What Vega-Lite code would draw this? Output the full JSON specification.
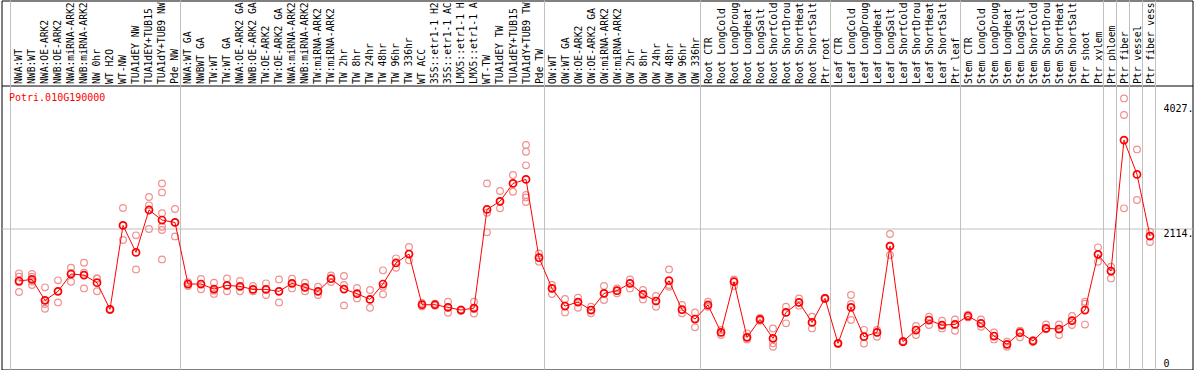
{
  "$schema": "https://vega.github.io/schema/vega-lite/v6.json",
  "width": 1191,
  "height": 369,
  "autosize": {"type": "none"},
  "padding": {"left": 1.5, "top": 0.5, "right": 1.5, "bottom": 0.5},
  "background": "white",
  "config": {"view": {"stroke": "black", "strokeWidth": 1}, "font": "DejaVu Sans Mono"},
  "title": {"text": "Potri.010G190000", "orient": "bottom", "anchor": "start", "frame": "group", "offset": 0, "dx": 7.5, "dy": -269.3, "baseline": "alphabetic", "color": "#ff0000", "font": "DejaVu Sans Mono", "fontSize": 10, "fontWeight": "normal"},
  "datasets": {
    "samples": [
      {"i": 0, "label": "NWA:WT", "mean": 1307, "reps": [1424, 1373, 1290, 1138]},
      {"i": 1, "label": "NWB:WT", "mean": 1332, "reps": [1414, 1373, 1300, 1245]},
      {"i": 2, "label": "NWA:OE-ARK2", "mean": 1011, "reps": [1210, 1011, 955, 883]},
      {"i": 3, "label": "NWB:OE-ARK2", "mean": 1149, "reps": [1317, 1149, 980]},
      {"i": 4, "label": "NWA:miRNA-ARK2", "mean": 1414, "reps": [1511, 1430, 1296]},
      {"i": 5, "label": "NWB:miRNA-ARK2", "mean": 1398, "reps": [1587, 1434, 1194]},
      {"i": 6, "label": "NW 0hr", "mean": 1281, "reps": [1350, 1340, 1150]},
      {"i": 7, "label": "WT H2O", "mean": 873, "reps": [880, 870, 865]},
      {"i": 8, "label": "WT-NW", "mean": 2158, "reps": [2424, 2158, 1934]},
      {"i": 9, "label": "TUA1dEY NW", "mean": 1745, "reps": [2006, 1485]},
      {"i": 10, "label": "TUA1dEY+TUB15", "mean": 2394, "reps": [2592, 2465, 2394, 2103]},
      {"i": 11, "label": "TUA1dY+TUB9 NW", "mean": 2240, "reps": [2801, 2663, 2343, 2138, 2087, 1638]},
      {"i": 12, "label": "Pde NW", "mean": 2204, "reps": [2409, 2204, 1990]},
      {"i": 13, "label": "NWA:WT GA", "mean": 1261, "reps": [1290, 1261, 1230]},
      {"i": 14, "label": "NWBWT GA", "mean": 1261, "reps": [1337, 1261, 1180]},
      {"i": 15, "label": "TW:WT", "mean": 1184, "reps": [1281, 1160, 1110]},
      {"i": 16, "label": "TW:WT GA", "mean": 1240, "reps": [1347, 1240, 1149]},
      {"i": 17, "label": "NWA:OE-ARK2 GA", "mean": 1225, "reps": [1307, 1225, 1149]},
      {"i": 18, "label": "NWB:OE-ARK2 GA", "mean": 1179, "reps": [1230, 1179, 1149]},
      {"i": 19, "label": "TW:OE-ARK2", "mean": 1179, "reps": [1271, 1179, 1093]},
      {"i": 20, "label": "TW:OE-ARK2 GA", "mean": 1149, "reps": [1332, 1149, 980]},
      {"i": 21, "label": "NWA:miRNA-ARK2", "mean": 1271, "reps": [1342, 1271, 1194]},
      {"i": 22, "label": "NWB:miRNA-ARK2", "mean": 1210, "reps": [1281, 1210, 1149]},
      {"i": 23, "label": "TW:miRNA-ARK2", "mean": 1149, "reps": [1220, 1149, 1093]},
      {"i": 24, "label": "TW:miRNA-ARK2", "mean": 1342, "reps": [1393, 1342, 1291]},
      {"i": 25, "label": "TW 2hr", "mean": 1184, "reps": [1383, 1245, 934]},
      {"i": 26, "label": "TW 8hr", "mean": 1113, "reps": [1200, 1113, 1041]},
      {"i": 27, "label": "TW 24hr", "mean": 1026, "reps": [1169, 1026, 898]},
      {"i": 28, "label": "TW 48hr", "mean": 1261, "reps": [1470, 1220, 1103]},
      {"i": 29, "label": "TW 96hr", "mean": 1583, "reps": [1654, 1583, 1511]},
      {"i": 30, "label": "TW 336hr", "mean": 1720, "reps": [1827, 1720, 1623]},
      {"i": 31, "label": "WT ACC", "mean": 944, "reps": [970, 944, 919]},
      {"i": 32, "label": "35S::etr1-1 H2", "mean": 944, "reps": [960, 944, 930]},
      {"i": 33, "label": "35S::etr1-1 AC", "mean": 904, "reps": [990, 904, 822]},
      {"i": 34, "label": "LMX5::etr1-1 H", "mean": 863, "reps": [873, 863, 853]},
      {"i": 35, "label": "LMX5::etr1-1 A", "mean": 893, "reps": [990, 880, 810]},
      {"i": 36, "label": "WT-TW", "mean": 2403, "reps": [2801, 2353, 2052]},
      {"i": 37, "label": "TUA1dEY TW", "mean": 2526, "reps": [2684, 2526, 2419]},
      {"i": 38, "label": "TUA1dEY+TUB15", "mean": 2801, "reps": [2929, 2801, 2674]},
      {"i": 39, "label": "TUA1dY+TUB9 TW", "mean": 2862, "reps": [3388, 3286, 3077, 2623, 2587, 2516]},
      {"i": 40, "label": "Pde TW", "mean": 1664, "reps": [1730, 1664, 1603]},
      {"i": 41, "label": "OW:WT", "mean": 1194, "reps": [1245, 1194, 1108]},
      {"i": 42, "label": "OW:WT GA", "mean": 924, "reps": [1031, 924, 827]},
      {"i": 43, "label": "OW:OE-ARK2", "mean": 985, "reps": [1052, 985, 898]},
      {"i": 44, "label": "OW:OE-ARK2 GA", "mean": 863, "reps": [914, 863, 812]},
      {"i": 45, "label": "OW:miRNA-ARK2", "mean": 1118, "reps": [1230, 1118, 1016]},
      {"i": 46, "label": "OW:miRNA-ARK2", "mean": 1159, "reps": [1194, 1159, 1118]},
      {"i": 47, "label": "OW 2hr", "mean": 1271, "reps": [1332, 1271, 1194]},
      {"i": 48, "label": "OW 8hr", "mean": 1103, "reps": [1169, 1103, 1026]},
      {"i": 49, "label": "OW 24hr", "mean": 1001, "reps": [1077, 1001, 914]},
      {"i": 50, "label": "OW 48hr", "mean": 1312, "reps": [1485, 1245, 1220]},
      {"i": 51, "label": "OW 96hr", "mean": 868, "reps": [940, 868, 812]},
      {"i": 52, "label": "OW 336hr", "mean": 725, "reps": [827, 725, 598]},
      {"i": 53, "label": "Root CTR", "mean": 940, "reps": [990, 940, 914]},
      {"i": 54, "label": "Root LongCold", "mean": 521, "reps": [557, 521, 480]},
      {"i": 55, "label": "Root LongDroug", "mean": 1296, "reps": [1332, 1296, 1230]},
      {"i": 56, "label": "Root LongHeat", "mean": 445, "reps": [506, 445, 414]},
      {"i": 57, "label": "Root LongSalt", "mean": 720, "reps": [740, 720, 700]},
      {"i": 58, "label": "Root ShortCold", "mean": 429, "reps": [582, 429, 353, 302]},
      {"i": 59, "label": "Root ShortDrou", "mean": 827, "reps": [914, 827, 659]},
      {"i": 60, "label": "Root ShortHeat", "mean": 980, "reps": [1041, 980, 930]},
      {"i": 61, "label": "Root ShortSalt", "mean": 674, "reps": [761, 674, 582]},
      {"i": 62, "label": "Ptr root", "mean": 1041, "reps": [1050, 1041, 1030]},
      {"i": 63, "label": "Leaf CTR", "mean": 353, "reps": [360, 353, 345]},
      {"i": 64, "label": "Leaf LongCold", "mean": 904, "reps": [1093, 955, 710]},
      {"i": 65, "label": "Leaf LongDroug", "mean": 455, "reps": [560, 455, 350]},
      {"i": 66, "label": "Leaf LongHeat", "mean": 521, "reps": [557, 521, 455]},
      {"i": 67, "label": "Leaf LongSalt", "mean": 1842, "reps": [2026, 1842, 1705]},
      {"i": 68, "label": "Leaf ShortCold", "mean": 379, "reps": [390, 379, 370]},
      {"i": 69, "label": "Leaf ShortDrou", "mean": 557, "reps": [618, 557, 480]},
      {"i": 70, "label": "Leaf ShortHeat", "mean": 710, "reps": [761, 710, 633]},
      {"i": 71, "label": "Leaf ShortSalt", "mean": 633, "reps": [700, 633, 582]},
      {"i": 72, "label": "Ptr leaf", "mean": 643, "reps": [720, 643, 547]},
      {"i": 73, "label": "Stem CTR", "mean": 771, "reps": [790, 771, 750]},
      {"i": 74, "label": "Stem LongCold", "mean": 659, "reps": [720, 659, 608]},
      {"i": 75, "label": "Stem LongDroug", "mean": 465, "reps": [521, 465, 414]},
      {"i": 76, "label": "Stem LongHeat", "mean": 338, "reps": [379, 338, 302]},
      {"i": 77, "label": "Stem LongSalt", "mean": 516, "reps": [547, 516, 445]},
      {"i": 78, "label": "Stem ShortCold", "mean": 389, "reps": [400, 389, 375]},
      {"i": 79, "label": "Stem ShortDrou", "mean": 582, "reps": [643, 582, 570]},
      {"i": 80, "label": "Stem ShortHeat", "mean": 572, "reps": [643, 572, 480]},
      {"i": 81, "label": "Stem ShortSalt", "mean": 700, "reps": [771, 700, 633]},
      {"i": 82, "label": "Ptr shoot", "mean": 863, "reps": [990, 960, 640]},
      {"i": 83, "label": "Ptr xylem", "mean": 1715, "reps": [1822, 1715, 1603]},
      {"i": 84, "label": "Ptr phloem", "mean": 1460, "reps": [1526, 1460, 1347]},
      {"i": 85, "label": "Ptr fiber", "mean": 3464, "reps": [4102, 3847, 2419]},
      {"i": 86, "label": "Ptr vessel", "mean": 2939, "reps": [3321, 2546]},
      {"i": 87, "label": "Ptr fiber vess", "mean": 1995, "reps": [2062, 1995, 1904]}
    ],
    "bounds": [
      {"i": 0, "side": "start"},
      {"i": 12, "side": "end"},
      {"i": 40, "side": "end"},
      {"i": 52, "side": "end"},
      {"i": 62, "side": "end"},
      {"i": 72, "side": "end"},
      {"i": 83, "side": "end"},
      {"i": 84, "side": "end"},
      {"i": 85, "side": "end"},
      {"i": 86, "side": "end"},
      {"i": 87, "side": "end"}
    ]
  },
  "data": {"name": "samples"},
  "encoding": {
    "x": {
      "field": "i",
      "type": "quantitative",
      "scale": {"domain": [-1.34615, 90.26923], "nice": false, "zero": false},
      "axis": {
        "orient": "top",
        "offset": -85,
        "title": null,
        "values": [0,1,2,3,4,5,6,7,8,9,10,11,12,13,14,15,16,17,18,19,20,21,22,23,24,25,26,27,28,29,30,31,32,33,34,35,36,37,38,39,40,41,42,43,44,45,46,47,48,49,50,51,52,53,54,55,56,57,58,59,60,61,62,63,64,65,66,67,68,69,70,71,72,73,74,75,76,77,78,79,80,81,82,83,84,85,86,87],
        "labelAngle": -90,
        "labelAlign": "left",
        "labelBaseline": "middle",
        "labelExpr": "datum.value >= 0 && datum.value < length(data('samples')) ? data('samples')[datum.value].label : ''",
        "labelFont": "DejaVu Sans Mono",
        "labelFontSize": 9.7,
        "labelColor": "black",
        "labelPadding": 2,
        "labelOverlap": false,
        "labelFlush": false,
        "labelLimit": 300,
        "ticks": false,
        "grid": false,
        "domain": true,
        "domainColor": "black",
        "domainWidth": 1
      }
    }
  },
  "layer": [
    {
      "data": {"name": "bounds"},
      "transform": [{"filter": "datum.side == 'end'"}],
      "mark": {"type": "rule", "color": "#c0c0c0", "strokeWidth": 1, "xOffset": 5.5},
      "encoding": {}
    },
    {
      "data": {"name": "bounds"},
      "transform": [{"filter": "datum.side == 'start'"}],
      "mark": {"type": "rule", "color": "#c0c0c0", "strokeWidth": 1, "xOffset": -8.5},
      "encoding": {}
    },
    {
      "transform": [{"flatten": ["reps"], "as": ["rep"]}],
      "mark": {"type": "point", "shape": "circle", "filled": false, "color": "#f09090", "size": 45, "strokeWidth": 1.2, "opacity": 1},
      "encoding": {
        "y": {
          "field": "rep",
          "type": "quantitative",
          "scale": {"domain": [-47, 5600], "nice": false, "zero": false},
          "axis": {
            "orient": "right",
            "offset": -29.5,
            "title": null,
            "values": [0, 2114, 4027],
            "labelExpr": "datum.value == 0 ? '0' : datum.value + '.'",
            "labelAlign": "left",
            "labelBaseline": {"condition": {"test": "datum.value == 0", "value": "alphabetic"}, "value": "top"},
            "labelPadding": 0,
            "labelFont": "DejaVu Sans Mono",
            "labelFontSize": 10,
            "labelColor": "black",
            "labelOverlap": false,
            "labelFlush": false,
            "ticks": false,
            "domain": false,
            "grid": true,
            "gridColor": "#c0c0c0",
            "gridOpacity": {"condition": {"test": "datum.value == 2114", "value": 1}, "value": 0}
          }
        }
      }
    },
    {
      "mark": {"type": "line", "color": "#ff0000", "strokeWidth": 1},
      "encoding": {"y": {"field": "mean", "type": "quantitative"}}
    },
    {
      "mark": {"type": "point", "shape": "circle", "filled": false, "color": "#ff0000", "size": 50, "strokeWidth": 1.7, "opacity": 1},
      "encoding": {"y": {"field": "mean", "type": "quantitative"}}
    }
  ]
}
